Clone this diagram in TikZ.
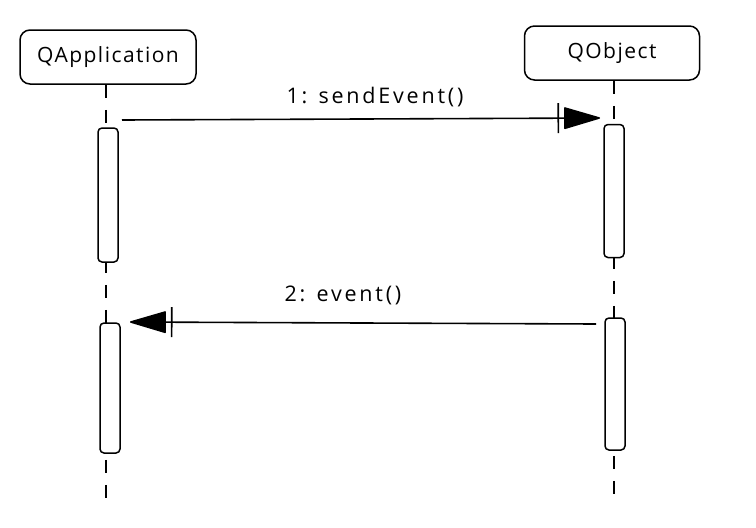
\documentclass[tikz,border=0pt]{standalone}
\usepackage{fontspec}
\setmainfont{Open Sans}
\newfontfamily\lblfont[LetterSpace=7]{Open Sans}
\newfontfamily\msgfont[LetterSpace=13]{Open Sans}
\usetikzlibrary{arrows.meta}
\tikzset{
  actor/.style={draw=black, line width=1.5pt, rounded corners=10pt, fill=white, inner sep=0pt, font=\lblfont\fontsize{21}{24}\selectfont},
  act/.style={draw=black, line width=1.5pt, rounded corners=4pt, fill=white, inner sep=0pt, minimum width=20pt},
  life/.style={draw=black, line width=1.5pt, dash pattern=on 13pt off 12pt},
  msg/.style={draw=black, line width=1.6pt, -{Bar[width=30pt,sep=5pt]Triangle[length=38pt,width=22pt,round]}},
  lbl/.style={font=\msgfont\fontsize{21.5}{24}\selectfont, inner sep=0pt},
}
\begin{document}
\begin{tikzpicture}[x=1pt,y=-1pt]
\useasboundingbox (0,0) rectangle (756,528);
% lifelines
\coordinate (la) at (106,505);
\coordinate (lo) at (614,502);
\node[actor, minimum width=176pt, minimum height=54pt] (qa) at (108,57) {QApplication};
\node[actor, minimum width=175pt, minimum height=54pt] (qo) at (612,53) {QObject};
\draw[life] (qa.south) ++(-2,0) -- (la);
\draw[life] (qo.south) ++(2,0) -- (lo);
% activations
\node[act, minimum height=134pt] (a1) at (108,195) {};
\node[act, minimum height=130pt] (a2) at (110,388) {};
\node[act, minimum height=133pt] (o1) at (614,191) {};
\node[act, minimum height=132pt] (o2) at (615,384) {};
% messages
\coordinate (m1s) at (122,120);
\coordinate (m1e) at (600,118);
\coordinate (m2s) at (596,324);
\coordinate (m2e) at (130,322);
\draw[msg] (m1s) -- (m1e);
\draw[msg] (m2s) -- (m2e);
\node[lbl] (l1) at (375,97) {1: sendEvent()};
\node[lbl] (l2) at (343,295) {2: event()};
\end{tikzpicture}
\end{document}
